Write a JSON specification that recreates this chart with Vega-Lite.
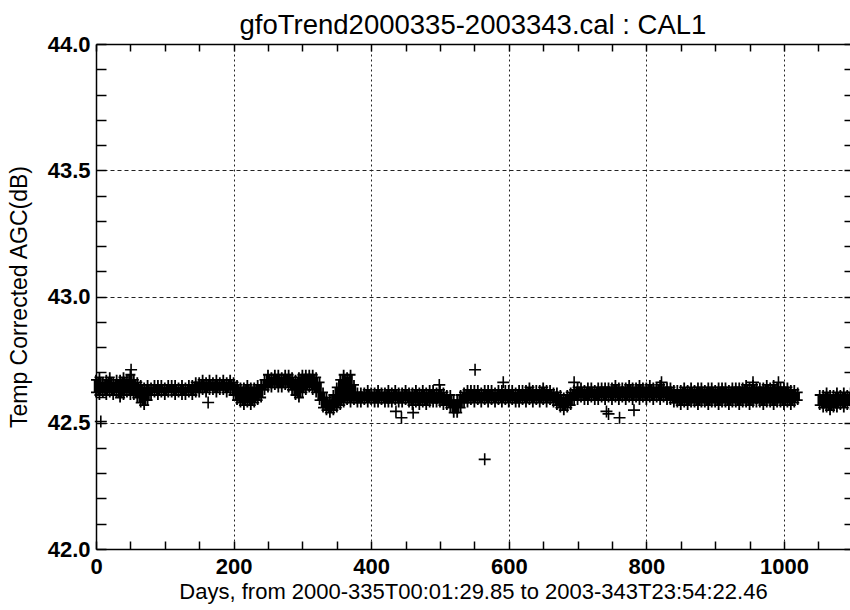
{
  "$schema": "https://vega.github.io/schema/vega-lite/v6.json",
  "autosize": {"type": "none"},
  "width": 754,
  "height": 505,
  "padding": {"left": 96, "top": 44, "right": 0, "bottom": 61},
  "background": "white",
  "title": {"text": "gfoTrend2000335-2003343.cal : CAL1", "fontSize": 27.5, "font": "Liberation Sans", "fontWeight": "normal", "color": "black", "offset": -6, "anchor": "middle"},
  "config": {
    "view": {"stroke": null},
    "axis": {
      "domainColor": "black", "domainWidth": 1.5, "tickColor": "black", "tickWidth": 1.5,
      "labelFont": "Liberation Sans", "labelFontSize": 22, "labelFontWeight": "bold", "labelColor": "black",
      "titleFont": "Liberation Sans", "titleFontSize": 22, "titleFontWeight": "normal", "titleColor": "black",
      "labelFlush": false, "labelOverlap": false, "labelBound": false,
      "gridColor": "#222", "gridWidth": 1, "gridDash": [2, 2]
    }
  },
  "datasets": {
    "band": [
      {"d":0,"lo":42.62,"hi":42.67},{"d":5,"lo":42.61,"hi":42.68},{"d":10,"lo":42.62,"hi":42.66},{"d":15,"lo":42.61,"hi":42.67},{"d":20,"lo":42.62,"hi":42.68},{"d":25,"lo":42.61,"hi":42.66},{"d":30,"lo":42.62,"hi":42.67},{"d":35,"lo":42.60,"hi":42.67},{"d":40,"lo":42.61,"hi":42.68},{"d":45,"lo":42.62,"hi":42.67},{"d":50,"lo":42.61,"hi":42.69},{"d":55,"lo":42.61,"hi":42.67},{"d":60,"lo":42.60,"hi":42.66},{"d":65,"lo":42.58,"hi":42.65},{"d":70,"lo":42.57,"hi":42.64},{"d":75,"lo":42.59,"hi":42.65},{"d":80,"lo":42.61,"hi":42.64},{"d":85,"lo":42.62,"hi":42.65},{"d":90,"lo":42.61,"hi":42.65},{"d":95,"lo":42.62,"hi":42.65},
      {"d":100,"lo":42.61,"hi":42.64},{"d":105,"lo":42.62,"hi":42.65},{"d":110,"lo":42.62,"hi":42.65},{"d":115,"lo":42.61,"hi":42.65},{"d":120,"lo":42.62,"hi":42.64},{"d":125,"lo":42.61,"hi":42.65},{"d":130,"lo":42.61,"hi":42.64},{"d":135,"lo":42.62,"hi":42.65},{"d":140,"lo":42.61,"hi":42.65},{"d":145,"lo":42.62,"hi":42.66},{"d":150,"lo":42.62,"hi":42.66},{"d":155,"lo":42.63,"hi":42.67},{"d":160,"lo":42.62,"hi":42.66},{"d":165,"lo":42.63,"hi":42.67},{"d":170,"lo":42.63,"hi":42.66},{"d":175,"lo":42.62,"hi":42.67},{"d":180,"lo":42.63,"hi":42.66},{"d":185,"lo":42.63,"hi":42.67},{"d":190,"lo":42.62,"hi":42.66},{"d":195,"lo":42.63,"hi":42.67},
      {"d":200,"lo":42.61,"hi":42.66},{"d":205,"lo":42.59,"hi":42.65},{"d":210,"lo":42.58,"hi":42.64},{"d":215,"lo":42.57,"hi":42.64},{"d":220,"lo":42.58,"hi":42.65},{"d":225,"lo":42.57,"hi":42.64},{"d":230,"lo":42.58,"hi":42.64},{"d":235,"lo":42.59,"hi":42.65},{"d":240,"lo":42.60,"hi":42.65},{"d":245,"lo":42.63,"hi":42.67},{"d":250,"lo":42.64,"hi":42.69},{"d":255,"lo":42.64,"hi":42.68},{"d":260,"lo":42.65,"hi":42.69},{"d":265,"lo":42.64,"hi":42.69},{"d":270,"lo":42.64,"hi":42.68},{"d":275,"lo":42.65,"hi":42.69},{"d":280,"lo":42.64,"hi":42.69},{"d":285,"lo":42.63,"hi":42.68},{"d":290,"lo":42.61,"hi":42.67},{"d":295,"lo":42.60,"hi":42.68},
      {"d":300,"lo":42.62,"hi":42.69},{"d":305,"lo":42.63,"hi":42.69},{"d":310,"lo":42.64,"hi":42.69},{"d":315,"lo":42.63,"hi":42.69},{"d":320,"lo":42.62,"hi":42.68},{"d":325,"lo":42.59,"hi":42.66},{"d":330,"lo":42.56,"hi":42.62},{"d":335,"lo":42.55,"hi":42.60},{"d":340,"lo":42.54,"hi":42.59},{"d":345,"lo":42.55,"hi":42.61},{"d":350,"lo":42.56,"hi":42.64},{"d":355,"lo":42.57,"hi":42.67},{"d":360,"lo":42.58,"hi":42.69},{"d":365,"lo":42.59,"hi":42.68},{"d":370,"lo":42.58,"hi":42.69},{"d":375,"lo":42.59,"hi":42.65},{"d":380,"lo":42.58,"hi":42.62},{"d":385,"lo":42.58,"hi":42.62},{"d":390,"lo":42.59,"hi":42.62},{"d":395,"lo":42.58,"hi":42.63},
      {"d":400,"lo":42.59,"hi":42.62},{"d":405,"lo":42.58,"hi":42.62},{"d":410,"lo":42.58,"hi":42.63},{"d":415,"lo":42.59,"hi":42.62},{"d":420,"lo":42.58,"hi":42.62},{"d":425,"lo":42.58,"hi":42.63},{"d":430,"lo":42.58,"hi":42.62},{"d":435,"lo":42.59,"hi":42.63},{"d":440,"lo":42.58,"hi":42.62},{"d":445,"lo":42.58,"hi":42.62},{"d":450,"lo":42.59,"hi":42.63},{"d":455,"lo":42.58,"hi":42.62},{"d":460,"lo":42.57,"hi":42.62},{"d":465,"lo":42.58,"hi":42.63},{"d":470,"lo":42.57,"hi":42.62},{"d":475,"lo":42.58,"hi":42.63},{"d":480,"lo":42.57,"hi":42.62},{"d":485,"lo":42.58,"hi":42.63},{"d":490,"lo":42.58,"hi":42.63},{"d":495,"lo":42.58,"hi":42.62},
      {"d":500,"lo":42.58,"hi":42.63},{"d":505,"lo":42.57,"hi":42.62},{"d":510,"lo":42.57,"hi":42.61},{"d":515,"lo":42.56,"hi":42.61},{"d":520,"lo":42.54,"hi":42.59},{"d":525,"lo":42.54,"hi":42.59},{"d":530,"lo":42.56,"hi":42.61},{"d":535,"lo":42.58,"hi":42.62},{"d":540,"lo":42.58,"hi":42.63},{"d":545,"lo":42.59,"hi":42.63},{"d":550,"lo":42.58,"hi":42.63},{"d":555,"lo":42.59,"hi":42.63},{"d":560,"lo":42.58,"hi":42.62},{"d":565,"lo":42.59,"hi":42.63},{"d":570,"lo":42.58,"hi":42.63},{"d":575,"lo":42.59,"hi":42.63},{"d":580,"lo":42.58,"hi":42.62},{"d":585,"lo":42.59,"hi":42.63},{"d":590,"lo":42.58,"hi":42.63},{"d":595,"lo":42.59,"hi":42.63},
      {"d":600,"lo":42.58,"hi":42.63},{"d":605,"lo":42.59,"hi":42.63},{"d":610,"lo":42.58,"hi":42.62},{"d":615,"lo":42.58,"hi":42.63},{"d":620,"lo":42.59,"hi":42.63},{"d":625,"lo":42.58,"hi":42.63},{"d":630,"lo":42.59,"hi":42.64},{"d":635,"lo":42.58,"hi":42.63},{"d":640,"lo":42.59,"hi":42.63},{"d":645,"lo":42.58,"hi":42.63},{"d":650,"lo":42.59,"hi":42.64},{"d":655,"lo":42.58,"hi":42.63},{"d":660,"lo":42.59,"hi":42.63},{"d":665,"lo":42.58,"hi":42.62},{"d":670,"lo":42.57,"hi":42.62},{"d":675,"lo":42.56,"hi":42.61},{"d":680,"lo":42.55,"hi":42.60},{"d":685,"lo":42.56,"hi":42.61},{"d":690,"lo":42.57,"hi":42.62},{"d":695,"lo":42.59,"hi":42.63},
      {"d":700,"lo":42.59,"hi":42.64},{"d":705,"lo":42.60,"hi":42.64},{"d":710,"lo":42.59,"hi":42.63},{"d":715,"lo":42.59,"hi":42.64},{"d":720,"lo":42.60,"hi":42.64},{"d":725,"lo":42.59,"hi":42.63},{"d":730,"lo":42.59,"hi":42.64},{"d":735,"lo":42.60,"hi":42.64},{"d":740,"lo":42.59,"hi":42.64},{"d":745,"lo":42.60,"hi":42.64},{"d":750,"lo":42.59,"hi":42.64},{"d":755,"lo":42.60,"hi":42.65},{"d":760,"lo":42.59,"hi":42.64},{"d":765,"lo":42.60,"hi":42.64},{"d":770,"lo":42.59,"hi":42.64},{"d":775,"lo":42.60,"hi":42.65},{"d":780,"lo":42.59,"hi":42.64},{"d":785,"lo":42.60,"hi":42.64},{"d":790,"lo":42.59,"hi":42.65},{"d":795,"lo":42.60,"hi":42.64},
      {"d":800,"lo":42.59,"hi":42.64},{"d":805,"lo":42.60,"hi":42.65},{"d":810,"lo":42.59,"hi":42.64},{"d":815,"lo":42.60,"hi":42.64},{"d":820,"lo":42.59,"hi":42.65},{"d":825,"lo":42.60,"hi":42.64},{"d":830,"lo":42.59,"hi":42.64},{"d":835,"lo":42.59,"hi":42.64},{"d":840,"lo":42.58,"hi":42.63},{"d":845,"lo":42.58,"hi":42.63},{"d":850,"lo":42.57,"hi":42.63},{"d":855,"lo":42.58,"hi":42.64},{"d":860,"lo":42.57,"hi":42.63},{"d":865,"lo":42.58,"hi":42.64},{"d":870,"lo":42.58,"hi":42.63},{"d":875,"lo":42.57,"hi":42.64},{"d":880,"lo":42.58,"hi":42.64},{"d":885,"lo":42.58,"hi":42.63},{"d":890,"lo":42.57,"hi":42.64},{"d":895,"lo":42.58,"hi":42.64},
      {"d":900,"lo":42.58,"hi":42.63},{"d":905,"lo":42.57,"hi":42.64},{"d":910,"lo":42.58,"hi":42.64},{"d":915,"lo":42.58,"hi":42.64},{"d":920,"lo":42.57,"hi":42.63},{"d":925,"lo":42.58,"hi":42.64},{"d":930,"lo":42.58,"hi":42.64},{"d":935,"lo":42.57,"hi":42.64},{"d":940,"lo":42.58,"hi":42.64},{"d":945,"lo":42.58,"hi":42.65},{"d":950,"lo":42.57,"hi":42.64},{"d":955,"lo":42.58,"hi":42.65},{"d":960,"lo":42.58,"hi":42.64},{"d":965,"lo":42.58,"hi":42.64},{"d":970,"lo":42.57,"hi":42.64},{"d":975,"lo":42.58,"hi":42.65},{"d":980,"lo":42.58,"hi":42.64},{"d":985,"lo":42.57,"hi":42.65},{"d":990,"lo":42.58,"hi":42.64},{"d":995,"lo":42.58,"hi":42.64},
      {"d":1000,"lo":42.57,"hi":42.64},{"d":1005,"lo":42.58,"hi":42.64},{"d":1010,"lo":42.57,"hi":42.63},{"d":1015,"lo":42.58,"hi":42.63},{"d":1020,"lo":42.59,"hi":42.62},
      {"d":1052,"lo":42.57,"hi":42.61},{"d":1057,"lo":42.56,"hi":42.61},{"d":1062,"lo":42.56,"hi":42.62},{"d":1067,"lo":42.55,"hi":42.61},{"d":1072,"lo":42.56,"hi":42.61},{"d":1077,"lo":42.56,"hi":42.62},{"d":1082,"lo":42.57,"hi":42.61},{"d":1087,"lo":42.56,"hi":42.62},{"d":1092,"lo":42.57,"hi":42.61},{"d":1097,"lo":42.57,"hi":42.62}
    ],
    "outliers": [
      {"d":7,"v":42.505},{"d":51,"v":42.71},{"d":163,"v":42.58},{"d":436,"v":42.545},{"d":444,"v":42.52},{"d":461,"v":42.54},{"d":499,"v":42.65},{"d":551,"v":42.71},{"d":565,"v":42.355},{"d":592,"v":42.66},{"d":695,"v":42.66},{"d":742,"v":42.545},{"d":745,"v":42.535},{"d":761,"v":42.52},{"d":782,"v":42.55},{"d":822,"v":42.66},{"d":955,"v":42.66},{"d":992,"v":42.66}
    ]
  },
  "resolve": {"axis": {"x": "independent", "y": "independent"}},
  "layer": [
    {
      "data": {"name": "band"},
      "mark": {"type": "rule", "color": "black", "strokeWidth": 4.5},
      "encoding": {
        "x": {"field": "d", "type": "quantitative", "scale": {"domain": [0, 1096], "nice": false, "zero": false},
          "axis": {"orient": "bottom", "title": "Days, from 2000-335T00:01:29.85 to 2003-343T23:54:22.46",
            "values": [0,50,100,150,200,250,300,350,400,450,500,550,600,650,700,750,800,850,900,950,1000,1050],
            "labelExpr": "datum.value % 200 === 0 ? format(datum.value, 'd') : ''",
            "tickSize": -8, "labelPadding": 15, "titlePadding": 4,
            "grid": true, "gridDash": [2, 3], "gridOpacity": {"condition": {"test": "datum.value % 200 === 0 && datum.value > 0", "value": 1}, "value": 0}}},
        "y": {"field": "lo", "type": "quantitative", "scale": {"domain": [42.0, 44.0], "nice": false, "zero": false},
          "axis": {"orient": "left", "title": "Temp Corrected AGC(dB)", "titleFontSize": 23,
            "values": [42.0,42.1,42.2,42.3,42.4,42.5,42.6,42.7,42.8,42.9,43.0,43.1,43.2,43.3,43.4,43.5,43.6,43.7,43.8,43.9,44.0],
            "labelExpr": "abs(datum.value*2 - round(datum.value*2)) < 0.001 ? format(datum.value, '.1f') : ''",
            "tickSize": -10, "labelPadding": 16, "titlePadding": 16,
            "grid": true, "gridDash": [4, 3], "gridOpacity": {"condition": {"test": "abs(datum.value*2 - round(datum.value*2)) < 0.001 && datum.value > 42.01 && datum.value < 43.99", "value": 1}, "value": 0}}},
        "y2": {"field": "hi"}
      }
    },
    {
      "data": {"name": "band"},
      "mark": {"type": "point", "shape": "M-1,0L1,0M0,-1L0,1", "filled": false, "color": "black", "strokeWidth": 1.8, "size": 100, "opacity": 1},
      "encoding": {
        "x": {"field": "d", "type": "quantitative", "axis": null},
        "y": {"field": "lo", "type": "quantitative", "axis": null}
      }
    },
    {
      "data": {"name": "band"},
      "mark": {"type": "point", "shape": "M-1,0L1,0M0,-1L0,1", "filled": false, "color": "black", "strokeWidth": 1.8, "size": 100, "opacity": 1},
      "encoding": {
        "x": {"field": "d", "type": "quantitative", "axis": null},
        "y": {"field": "hi", "type": "quantitative", "axis": null}
      }
    },
    {
      "data": {"name": "outliers"},
      "mark": {"type": "point", "shape": "M-1,0L1,0M0,-1L0,1", "filled": false, "color": "black", "strokeWidth": 1.6, "size": 144, "opacity": 1},
      "encoding": {
        "x": {"field": "d", "type": "quantitative",
          "axis": {"orient": "top", "title": null, "labels": false, "grid": false,
            "values": [0,50,100,150,200,250,300,350,400,450,500,550,600,650,700,750,800,850,900,950,1000,1050],
            "tickSize": -7}},
        "y": {"field": "v", "type": "quantitative",
          "axis": {"orient": "right", "title": null, "labels": false, "grid": false, "domain": false,
            "values": [42.0,42.1,42.2,42.3,42.4,42.5,42.6,42.7,42.8,42.9,43.0,43.1,43.2,43.3,43.4,43.5,43.6,43.7,43.8,43.9,44.0],
            "tickSize": -6}}
      }
    }
  ]
}
